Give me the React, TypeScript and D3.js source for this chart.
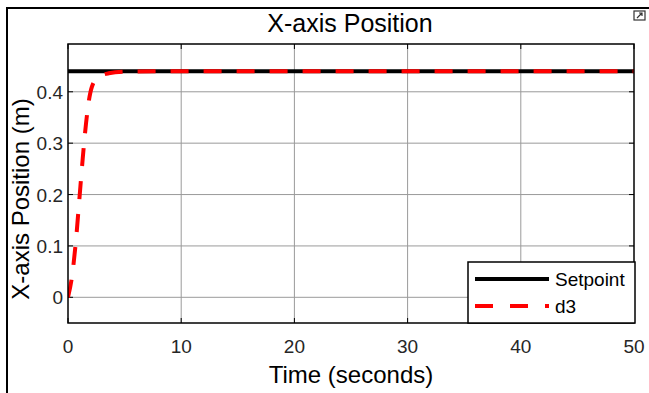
import React, { useRef, useEffect } from 'react';
import * as d3 from 'd3';

// chart data
const timeTicks = [0, 10, 20, 30, 40, 50];
const posTicks = [0, 0.1, 0.2, 0.3, 0.4];
const setpointTime = [0, 50];
const setpointValue = [0.44, 0.44];
const d3Time = [0, 0.35, 0.7, 1.0, 1.3, 1.6, 1.9, 2.2, 2.8, 3.6, 5, 8, 20, 35, 50];
const d3Value = [0, 0.04, 0.11, 0.19, 0.27, 0.34, 0.39, 0.415, 0.43, 0.436, 0.439, 0.44, 0.44, 0.44, 0.44];
const legendLabels = ['Setpoint', 'd3'];

const FONT = '"Liberation Sans", Arial, Helvetica, sans-serif';

const App = () => {
  const svgRef = useRef<SVGSVGElement>(null);
  const width = 649;
  const height = 393;

  useEffect(() => {
    const svg = d3.select(svgRef.current);
    svg.selectAll('*').remove();

    const margin = { top: 44, right: 15, bottom: 70, left: 68 };
    const innerWidth = width - margin.left - margin.right;
    const innerHeight = height - margin.top - margin.bottom;

    svg.append('rect').attr('width', width).attr('height', height).attr('fill', '#fff');

    // outer frame (top + left edges)
    svg.append('path')
      .attr('d', `M7,${height} L7,8 L${width},8`)
      .attr('fill', 'none')
      .attr('stroke', '#000')
      .attr('stroke-width', 2);

    // little undock icon at top right
    const icon = svg.append('g').attr('transform', 'translate(634,11)');
    icon.append('rect').attr('width', 11).attr('height', 9).attr('fill', '#fff').attr('stroke', '#333').attr('stroke-width', 1.2);
    icon.append('path').attr('d', 'M3,7 L8,2 M5,2 L8,2 L8,5').attr('stroke', '#333').attr('fill', 'none').attr('stroke-width', 1.2);

    const xScale = d3.scaleLinear().domain([0, 50]).range([0, innerWidth]);
    const yScale = d3.scaleLinear().domain([-0.05, 0.493]).range([innerHeight, 0]);

    const chart = svg.append('g').attr('transform', `translate(${margin.left},${margin.top})`);

    // grid
    chart.append('g')
      .selectAll('line')
      .data(timeTicks.slice(1, -1))
      .enter()
      .append('line')
      .attr('x1', d => xScale(d)).attr('x2', d => xScale(d))
      .attr('y1', 0).attr('y2', innerHeight)
      .attr('stroke', '#9a9a9a').attr('stroke-width', 1);
    chart.append('g')
      .selectAll('line')
      .data(posTicks)
      .enter()
      .append('line')
      .attr('x1', 0).attr('x2', innerWidth)
      .attr('y1', d => yScale(d)).attr('y2', d => yScale(d))
      .attr('stroke', '#9a9a9a').attr('stroke-width', 1);

    // inward ticks on all four sides
    const tickLen = 5;
    timeTicks.forEach(t => {
      chart.append('line').attr('x1', xScale(t)).attr('x2', xScale(t)).attr('y1', innerHeight).attr('y2', innerHeight - tickLen).attr('stroke', '#000');
      chart.append('line').attr('x1', xScale(t)).attr('x2', xScale(t)).attr('y1', 0).attr('y2', tickLen).attr('stroke', '#000');
    });
    posTicks.forEach(v => {
      chart.append('line').attr('x1', 0).attr('x2', tickLen).attr('y1', yScale(v)).attr('y2', yScale(v)).attr('stroke', '#000');
      chart.append('line').attr('x1', innerWidth).attr('x2', innerWidth - tickLen).attr('y1', yScale(v)).attr('y2', yScale(v)).attr('stroke', '#000');
    });

    // clip
    svg.append('defs').append('clipPath').attr('id', 'plotClip')
      .append('rect').attr('width', innerWidth).attr('height', innerHeight);

    const lines = chart.append('g').attr('clip-path', 'url(#plotClip)');

    const setpointData = setpointTime.map((t, i) => [t, setpointValue[i]] as [number, number]);
    const d3Data = d3Time.map((t, i) => [t, d3Value[i]] as [number, number]);

    const line = d3.line<[number, number]>()
      .x(d => xScale(d[0]))
      .y(d => yScale(d[1]));

    lines.append('path')
      .datum(setpointData)
      .attr('d', line.curve(d3.curveLinear))
      .attr('fill', 'none')
      .attr('stroke', '#000')
      .attr('stroke-width', 4);

    lines.append('path')
      .datum(d3Data)
      .attr('d', d3.line<[number, number]>().x(d => xScale(d[0])).y(d => yScale(d[1])).curve(d3.curveMonotoneX))
      .attr('fill', 'none')
      .attr('stroke', '#ff0000')
      .attr('stroke-width', 4)
      .attr('stroke-dasharray', '18,15');

    // axes box
    chart.append('rect')
      .attr('width', innerWidth).attr('height', innerHeight)
      .attr('fill', 'none').attr('stroke', '#000').attr('stroke-width', 1.5);

    // tick labels
    chart.append('g')
      .selectAll('text')
      .data(timeTicks)
      .enter()
      .append('text')
      .attr('x', d => xScale(d))
      .attr('y', innerHeight + 30)
      .attr('text-anchor', 'middle')
      .attr('font-family', FONT)
      .attr('font-size', '19px')
      .attr('fill', '#262626')
      .text(d => d);

    chart.append('g')
      .selectAll('text')
      .data(posTicks)
      .enter()
      .append('text')
      .attr('x', -5)
      .attr('y', d => yScale(d) + 7)
      .attr('text-anchor', 'end')
      .attr('font-family', FONT)
      .attr('font-size', '19px')
      .attr('fill', '#262626')
      .text(d => d);

    // title
    svg.append('text')
      .attr('x', 350)
      .attr('y', 32)
      .attr('text-anchor', 'middle')
      .attr('font-family', FONT)
      .attr('font-size', '25px')
      .attr('fill', '#000')
      .text('X-axis Position');

    // x label
    svg.append('text')
      .attr('x', margin.left + innerWidth / 2)
      .attr('y', 383)
      .attr('text-anchor', 'middle')
      .attr('font-family', FONT)
      .attr('font-size', '24px')
      .attr('fill', '#000')
      .text('Time (seconds)');

    // y label
    svg.append('text')
      .attr('transform', 'rotate(-90)')
      .attr('x', -199)
      .attr('y', 29)
      .attr('text-anchor', 'middle')
      .attr('font-family', FONT)
      .attr('font-size', '24px')
      .attr('fill', '#000')
      .text('X-axis Position (m)');

    // legend
    const legend = svg.append('g').attr('transform', 'translate(468,262)');
    legend.append('rect')
      .attr('width', 167).attr('height', 61)
      .attr('fill', '#fff').attr('stroke', '#000').attr('stroke-width', 1.5);

    legendLabels.forEach((label, i) => {
      const row = legend.append('g').attr('transform', `translate(0, ${17 + i * 27})`);
      row.append('line')
        .attr('x1', 7).attr('x2', 81)
        .attr('stroke', i === 0 ? '#000' : '#ff0000')
        .attr('stroke-width', 4)
        .attr('stroke-dasharray', i === 0 ? null : '18,17');
      row.append('text')
        .attr('x', 87)
        .attr('y', 7)
        .attr('font-family', FONT)
        .attr('font-size', '19px')
        .attr('fill', '#000')
        .text(label);
    });
  }, []);

  return (
    <svg
      ref={svgRef}
      width={width}
      height={height}
      style={{ position: 'absolute', left: 0, top: 0, display: 'block' }}
    />
  );
};

export default App;
